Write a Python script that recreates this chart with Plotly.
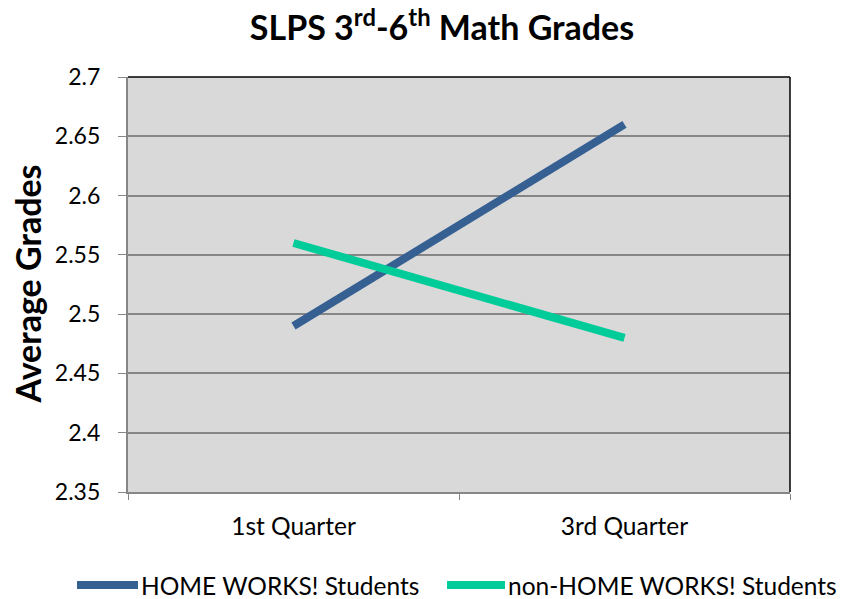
import plotly.graph_objects as go

categories = ["1st Quarter", "3rd Quarter"]
home_works = [2.49, 2.66]
non_home_works = [2.56, 2.48]
series_names = ["HOME WORKS! Students", "non-HOME WORKS! Students"]
series_colors = ["#366092", "#00CC99"]
y_range = [2.35, 2.7]
y_step = 0.05

FONT = "Lato"
W, H = 839, 591
L, R, T, B = 120, 57, 69, 107
plot_h = H - T - B
plot_w = W - L - R


def px_x(fx):
    return (fx - L) / plot_w


def px_y(fy):
    return (H - B - fy) / plot_h


fig = go.Figure()
for name, vals, col in zip(series_names, [home_works, non_home_works], series_colors):
    fig.add_trace(go.Scatter(x=categories, y=vals, mode="lines", name=name,
                             line=dict(color=col, width=8), showlegend=False))

fig.update_layout(
    width=W, height=H,
    margin=dict(l=L, r=R, t=T, b=B, autoexpand=False),
    paper_bgcolor="white",
    plot_bgcolor="#D9D9D9",
    font=dict(family=FONT, color="black", size=24),
    title=dict(text="<b>SLPS 3<sup>rd</sup>-6<sup>th</sup> Math Grades</b>",
               x=434 / W, xanchor="center", y=1 - 20 / H, yanchor="middle",
               font=dict(family=FONT, size=34)),
    showlegend=False,
    xaxis=dict(type="category", range=[-0.5, 1.5], showgrid=False,
               ticks="outside", tickson="boundaries", ticklen=6,
               tickcolor="#868686", linecolor="#868686", linewidth=1.5,
               showline=True, mirror=False, tickfont=dict(size=24.5),
               ticklabelstandoff=12),
    yaxis=dict(range=y_range, tick0=y_range[0], dtick=y_step, tickformat="~g",
               ticksuffix="<span style='color:rgba(0,0,0,0)'>0</span>",
               showgrid=True, gridcolor="#868686", gridwidth=1.5,
               ticks="outside", ticklen=8, tickcolor="#868686",
               showline=True, linecolor="#868686", linewidth=1.5,
               zeroline=False, tickfont=dict(size=23)),
)

fig.add_annotation(text="<b>Average Grades</b>", textangle=-90,
                   xref="paper", yref="paper", x=px_x(19), y=0.5,
                   xanchor="center", yanchor="middle", showarrow=False,
                   font=dict(family=FONT, size=34, color="black"))

# plot border top/right in black
fig.add_shape(type="line", xref="paper", yref="paper", x0=0, x1=1, y0=1, y1=1,
              line=dict(color="black", width=1.5))
fig.add_shape(type="line", xref="paper", yref="paper", x0=1, x1=1, y0=0, y1=1,
              line=dict(color="black", width=1.5))

# legend (long line keys as in the reference)
legend_items = [(69, 130, 131), (439, 497, 498)]
legend_y = 577
for (lx0, lx1, tx), name, col in zip(legend_items, series_names, series_colors):
    fig.add_shape(type="line", xref="paper", yref="paper",
                  x0=px_x(lx0), x1=px_x(lx1), y0=px_y(legend_y), y1=px_y(legend_y),
                  line=dict(color=col, width=8))
    fig.add_annotation(text=name, xref="paper", yref="paper",
                       x=px_x(tx), y=px_y(legend_y), xanchor="left", yanchor="middle",
                       showarrow=False, font=dict(family=FONT, size=24.5, color="black"))

fig.write_html("out.html")
